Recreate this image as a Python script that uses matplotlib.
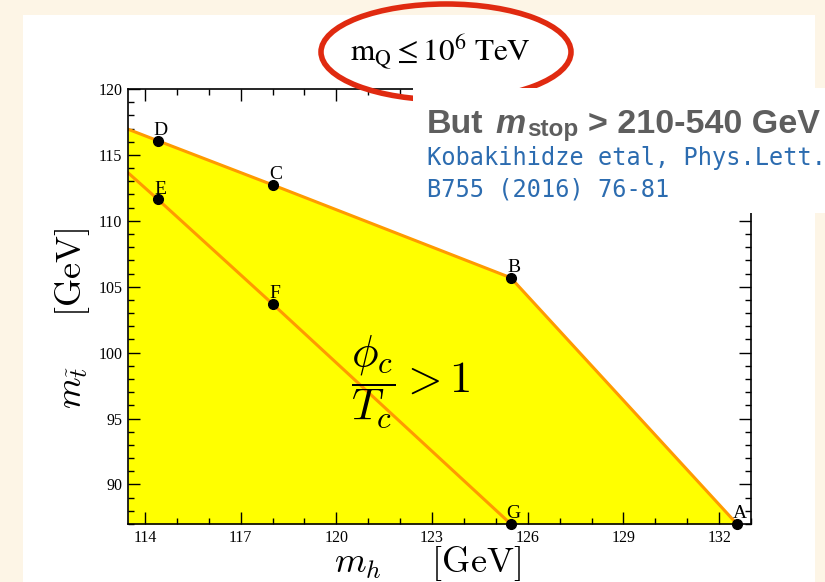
import matplotlib
matplotlib.use('Agg')
import matplotlib.pyplot as plt
from matplotlib.patches import Rectangle, Ellipse
from matplotlib.ticker import MultipleLocator

plt.rcParams['font.family'] = 'serif'
plt.rcParams['font.serif'] = ['Liberation Serif', 'DejaVu Serif']
plt.rcParams['mathtext.fontset'] = 'cm'

# upper edge of the phi_c/T_c > 1 region, starting at the left axis edge
upper_mh = [113.47, 114.4, 118.0, 125.47, 132.56]
upper_mt = [116.95, 116.08, 112.73, 105.68, 87.0]
# inner line E-F-G
inner_mh = [113.47, 114.4, 118.0, 125.47]
inner_mt = [113.65, 111.64, 103.7, 87.0]

point_names = ['A', 'B', 'C', 'D', 'E', 'F', 'G']
point_mh = [132.56, 125.47, 118.0, 114.4, 114.4, 118.0, 125.47]
point_mt = [87.0, 105.68, 112.73, 116.08, 111.64, 103.7, 87.0]

mh_ticks = [114, 117, 120, 123, 126, 129, 132]
mt_ticks = [90, 95, 100, 105, 110, 115, 120]
mh_range = (113.47, 133.0)
mt_range = (87.0, 120.0)

W, H = 825, 582
fig = plt.figure(figsize=(8.25, 5.82), dpi=100, facecolor='#fdf5e6')

# white slide panel
fig.patches.append(Rectangle((23 / W, 0), 792 / W, 567 / H, transform=fig.transFigure,
                             facecolor='white', edgecolor='none', zorder=-5))

ax = fig.add_axes([128 / W, 1 - 524 / H, 623 / W, 435 / H])
ax.set_facecolor('none')

ax.fill_between(upper_mh, upper_mt, mt_range[0], color='#ffff00', lw=0, zorder=1)
ax.plot(upper_mh, upper_mt, color='#ff9a00', lw=2.2, zorder=2)
ax.plot(inner_mh, inner_mt, color='#ff9a00', lw=2.2, zorder=2)
ax.plot(point_mh, point_mt, 'o', color='black', ms=7, clip_on=False, zorder=5)
for name, x, y in zip(point_names, point_mh, point_mt):
    ax.annotate(name, (x, y), xytext=(2, 4), textcoords='offset points',
                ha='center', va='baseline', fontsize=14, annotation_clip=False, zorder=6)

ax.text(120.45, 97.8, r'$\dfrac{\phi_c}{T_c} > 1$', fontsize=32, ha='left', va='center')

ax.set_xlim(*mh_range)
ax.set_ylim(*mt_range)
ax.set_xticks(mh_ticks)
ax.set_yticks(mt_ticks)
ax.xaxis.set_minor_locator(MultipleLocator(1))
ax.yaxis.set_minor_locator(MultipleLocator(1))
ax.tick_params(which='both', direction='in', top=True, right=True, width=1, labelsize=11.5)
ax.tick_params(which='major', length=8.6, pad=4)
ax.tick_params(which='minor', length=4.3)
for s in ax.spines.values():
    s.set_linewidth(1.2)

ax.set_xlabel(r'$m_h\quad\;\;[\mathrm{GeV}]$', fontsize=26)
ax.xaxis.set_label_coords(0.4815, -0.046)
ax.set_ylabel(r'$m_{\tilde{t}}\quad\;\;[\mathrm{GeV}]$', fontsize=26)
ax.yaxis.set_label_coords(-0.058, 0.474)

# circled heading
fig.text(440 / W, 1 - 62 / H, r'$\mathrm{m_Q \leq 10^6\ TeV}$', math_fontfamily='stix',
         fontsize=22.5, ha='center', va='baseline', zorder=4)
fig.patches.append(Ellipse((446 / W, 1 - 52 / H), 250 / W, 96 / H, transform=fig.transFigure,
                           fill=False, edgecolor='#e02a10', lw=4, zorder=3))

# note box on top
fig.patches.append(Rectangle((413 / W, 1 - 213 / H), 412 / W, 125 / H, transform=fig.transFigure,
                             facecolor='white', edgecolor='none', zorder=5))

renderer = fig.canvas.get_renderer()
gray = '#5e5e5e'
sans = 'Liberation Sans'


def put(x, y, s, **kw):
    t = fig.text(x / W, 1 - y / H, s, va='baseline', zorder=6, **kw)
    return t.get_window_extent(renderer).x1


x = put(427, 133, 'But', family=sans, weight='bold', fontsize=24.5, color=gray)
x = put(x + 12, 133, 'm', family=sans, weight='bold', style='italic', fontsize=24.5, color=gray)
x = put(x + 1, 136, 'stop', family=sans, weight='bold', fontsize=17.5, color=gray)
put(x + 10, 133, '> 210-540 GeV', family=sans, weight='bold', fontsize=24.5, color=gray)

blue = '#2c6cb0'
put(427, 165, 'Kobakihidze etal, Phys.Lett.', family='DejaVu Sans Mono', fontsize=17, color=blue)
put(427, 197, 'B755 (2016) 76-81', family='DejaVu Sans Mono', fontsize=17, color=blue)

fig.savefig('out.png', dpi=100, facecolor=fig.get_facecolor())
